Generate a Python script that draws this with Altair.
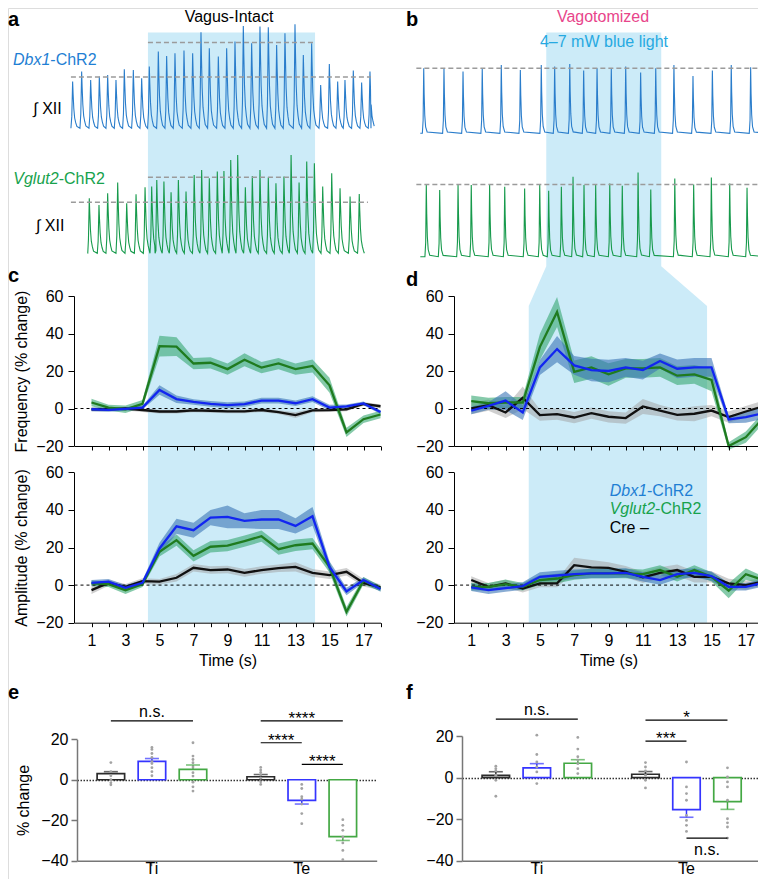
import altair as alt
import pandas as pd

FONT = "Liberation Sans"
W, H = 750, 871

# ---------------- layout (chart pixels) ----------------
XL = [66.5, 372.5]          # left column time scale (0..18 s)
XR = [446.1, 755.0]         # right column time scale (0..18 s)
YF = [438.0, 288.0]         # frequency panels (-20..60)
YA = [614.7, 464.3]         # amplitude panels (-20..60)
SHADE_RANGE = [24.5, 614.7]
XE = [69.0, 368.7]
YE = [852.7, 731.3]
XFB = [454.0, 753.3]
YFB = [852.7, 728.0]

# ---------------- data ----------------
TIME = list(range(1, 19))
SERIES = ["Cre", "Vglut2", "Dbx1"]

# panel c : vagus intact
C_FREQ = {
    "Vglut2": [3.2, 0.5, -0.4, 2.5, 33.3, 33.0, 24.0, 24.4, 21.0, 26.0, 21.8, 24.0, 21.0, 22.7, 12.4, -12.7, -5.7, -3.2],
    "Dbx1": [-0.4, -0.7, -0.2, 0.5, 9.9, 5.0, 3.5, 2.5, 1.8, 2.3, 4.2, 4.2, 2.8, 5.0, 0.5, 1.1, 2.7, -1.9],
    "Cre": [-0.5, -0.5, 0.0, -0.8, -1.6, -1.6, -1.0, -1.2, -1.5, -1.5, -0.8, -1.9, -3.5, -1.0, -0.9, -0.5, 2.5, 1.2],
}
C_FREQ_SEM = {
    "Vglut2": [2, 1.5, 2, 2, 5.5, 5, 3, 3, 3, 3.5, 3, 3, 3, 3.5, 4, 2.5, 2, 2],
    "Dbx1": [1, 1, 1, 1, 2.5, 2, 1.5, 1.5, 1.5, 1.5, 1.5, 1.5, 1.5, 1.5, 1.5, 1, 1, 1],
    "Cre": [1, 1, 1, 1, 1, 1, 1, 1, 1, 1, 1, 1, 1.5, 1, 1, 1, 1, 1],
}
C_AMP = {
    "Dbx1": [1.2, 1.8, -1.4, 1.2, 19.5, 31.3, 29.2, 35.9, 36.3, 34.2, 34.9, 34.9, 31.5, 36.6, 9.7, -3.4, 2.7, -2.1],
    "Vglut2": [0.9, 0.5, -2.7, 0.5, 17.7, 23.9, 15.6, 20.4, 21.0, 23.4, 26.0, 19.1, 21.2, 22.1, 9.7, -14.2, 2.3, -1.8],
    "Cre": [-2.7, 1.2, -0.9, 2.1, 1.8, 3.9, 9.2, 8.0, 8.3, 6.5, 8.0, 9.0, 9.7, 6.5, 5.3, 7.1, 1.2, -1.2],
}
C_AMP_SEM = {
    "Dbx1": [1.5, 1.5, 1.5, 1.5, 3, 4, 4, 4, 6, 4, 5, 5, 4, 5, 3, 2, 1.5, 1.5],
    "Vglut2": [1.5, 1.5, 2, 1.5, 2.5, 3, 3, 3, 3, 3, 3, 3, 3, 3, 3, 2.5, 2, 1.5],
    "Cre": [2, 1.5, 1.5, 1.5, 1.5, 2, 2, 2, 2, 2, 2, 2, 2.5, 2, 2, 2, 2, 1.5],
}
# panel d : vagotomized
D_FREQ = {
    "Vglut2": [3.9, 2.8, 3.2, 3.2, 32.9, 51.5, 19.6, 21.9, 18.2, 21.4, 21.4, 21.9, 17.5, 18.2, 15.2, -20.0, -15.3, -5.1],
    "Dbx1": [-1.1, 1.4, 4.2, -2.1, 21.9, 31.7, 23.0, 20.5, 20.0, 21.9, 20.5, 25.3, 21.2, 21.9, 21.9, -5.8, -4.6, -2.5],
    "Cre": [0.0, 1.8, -2.1, 5.7, -3.5, -3.0, -4.8, -2.5, -4.4, -5.1, 1.1, -1.1, -3.4, -2.8, -1.1, -4.6, -1.6, 1.1],
}
D_FREQ_SEM = {
    "Vglut2": [3, 3, 3, 3, 7, 8, 6, 6, 6, 5, 5, 5, 5, 5, 6, 2, 3, 3],
    "Dbx1": [2, 2, 5, 4, 4, 7, 5, 6, 6, 5, 5, 4, 5, 5, 5, 2, 3, 3],
    "Cre": [3, 3, 3, 6, 3, 3, 3, 3, 3, 3, 4, 3, 3, 4, 3, 3, 3, 3],
}
D_AMP = {
    "Dbx1": [-1.2, -2.7, -1.6, -0.5, 4.4, 5.1, 5.8, 6.2, 6.2, 6.5, 4.4, 2.7, 5.8, 6.5, 4.8, -0.9, -0.9, 1.2],
    "Vglut2": [-0.9, -0.9, 0.5, -0.9, 2.7, 3.5, 5.3, 6.2, 6.2, 6.2, 5.8, 8.0, 4.4, 8.0, 4.4, -3.0, 5.8, 2.7],
    "Cre": [2.7, -0.9, 0.9, -1.9, 0.9, 0.9, 10.6, 9.4, 9.2, 7.1, 4.1, 6.5, 8.0, 4.4, 4.4, 0.9, 0.0, 1.8],
}
D_AMP_SEM = {
    "Dbx1": [2, 2, 2, 2, 2.5, 2.5, 2.5, 2.5, 2.5, 2.5, 2.5, 2.5, 2.5, 2.5, 2.5, 2, 2, 2],
    "Vglut2": [2, 2, 2.5, 2, 2.5, 2.5, 2.5, 2.5, 2.5, 2.5, 2.5, 2.5, 2.5, 2.5, 2.5, 4, 3, 2],
    "Cre": [2, 2, 2, 2, 2, 2, 4, 4, 3, 3, 3, 3, 3, 3, 3, 2.5, 2.5, 2],
}

# light-on periods (s)
LIGHT_LEFT = [4.32, 14.15]
LIGHT_RIGHT_TRACE = [5.37, 12.07]
LIGHT_RIGHT_PANEL = [4.35, 14.74]

# raw XII traces : burst peak times (s) and heights (a.u.)
A_DBX1_T = [-0.11, 0.42, 0.95, 1.46, 1.95, 2.44, 2.93, 3.46, 3.95, 4.40, 4.93, 5.42, 5.91, 6.44, 6.95, 7.44, 7.93, 8.46,
            8.95, 9.44, 9.93, 10.42, 10.91, 11.40, 11.89, 12.38, 12.97, 13.46, 13.95, 14.48, 14.99, 15.48, 15.91, 16.40, 16.89, 17.38]
A_DBX1_H = [46.7, 56.7, 48.3, 51.7, 53.3, 48.3, 59.0, 58.3, 50.0, 61.7, 76.7, 72.3, 75.0, 77.7, 75.0, 96.0, 80.0, 71.7,
            80.0, 86.7, 102.3, 85.0, 101.7, 101.0, 83.3, 95.0, 104.0, 73.3, 85.0, 43.3, 64.3, 46.7, 48.3, 57.7, 45.7, 56.7]
A_VGLUT2_T = [0.87, 1.44, 1.95, 2.54, 3.07, 3.62, 4.15, 4.54, 4.84, 5.26, 5.68, 6.11, 6.56, 7.04, 7.48, 7.93, 8.40, 8.79,
              9.19, 9.60, 10.05, 10.46, 10.91, 11.40, 11.85, 12.32, 12.74, 13.21, 13.66, 14.11, 14.60, 15.13, 15.62, 16.21, 16.75]
A_VGLUT2_H = [55.0, 48.3, 60.0, 70.7, 50.0, 59.0, 66.0, 66.7, 73.3, 71.7, 61.0, 73.3, 61.7, 78.3, 83.3, 75.0, 81.7, 82.3,
              93.3, 98.3, 66.0, 77.3, 83.3, 75.7, 70.0, 76.7, 98.3, 70.7, 91.7, 90.0, 66.7, 80.0, 65.0, 56.7, 59.3]
B_DBX1_T = [-1.77, -0.59, 0.52, 1.64, 2.75, 3.86, 5.08, 5.86, 6.74, 7.55, 8.33, 9.16, 10.0, 10.87, 11.75, 12.81, 13.92,
            15.05, 16.15, 17.28]
B_DBX1_H = [65.0, 65.0, 61.7, 65.0, 68.3, 63.3, 68.3, 66.7, 69.3, 62.7, 65.0, 65.0, 66.7, 60.7, 65.0, 68.3, 57.3, 62.7, 68.3, 66.0]
B_VGLUT2_T = [-1.62, -0.84, 0.23, 1.0, 2.07, 2.95, 4.11, 4.99, 5.51, 6.25, 6.93, 7.57, 8.25, 9.07, 9.8, 10.72, 11.46,
              12.86, 13.96, 14.99, 16.06, 17.07]
B_VGLUT2_H = [71.7, 66.7, 71.7, 71.7, 71.7, 70.0, 68.3, 71.7, 66.0, 70.0, 80.0, 71.7, 71.7, 73.3, 71.0, 84.3, 67.3, 78.3,
              72.3, 79.3, 73.3, 69.0]

# bar charts e / f
GENO = ["Cre", "Dbx1", "Vglut2"]
PHASE = ["Ti", "Te"]
E_MEAN = {"Ti": [3.0, 9.1, 5.1], "Te": [1.5, -10.2, -28.1]}
E_SEM = {"Ti": [1.0, 1.4, 2.2], "Te": [1.1, 1.8, 1.9]}
F_MEAN = {"Ti": [1.1, 4.7, 6.9], "Te": [1.6, -15.4, -11.6]}
F_SEM = {"Ti": [1.7, 2.0, 1.7], "Te": [1.3, 3.7, 3.7]}
E_DOTS = {
    ("Ti", "Cre"): [8.5, 4.0, 2.0, 0.0, -1.5, -2.5],
    ("Ti", "Dbx1"): [16, 15, 13, 11, 9, 8, 6, 4, 2],
    ("Ti", "Vglut2"): [18.3, 11.7, 10, 8.4, 6.3, 3.5, 1.8, -1.2, -3.5, -5.6],
    ("Te", "Cre"): [6.1, 4.8, 3.6, 2.3, 0.7, -1.0, -2.3],
    ("Te", "Dbx1"): [-2.3, -4.3, -8.4, -9.6, -12, -16.7, -21.7],
    ("Te", "Vglut2"): [-19.7, -22.5, -25, -28.3, -31.2, -34.9, -39.5],
}
F_DOTS = {
    ("Ti", "Cre"): [5.5, 4.3, 3.2, 1.1, -1.3, -9],
    ("Ti", "Dbx1"): [20.4, 11.1, 7.5, 5.1, 2.7, -2.9],
    ("Ti", "Vglut2"): [19.3, 13.7, 10, 8.4, 6.7, 4.3, 1.9],
    ("Te", "Cre"): [7.2, 5.1, 3.2, 1.1, -1.3, -5],
    ("Te", "Dbx1"): [7.5, -4.5, -7.7, -10.9, -18.2, -20.6, -23, -25.9],
    ("Te", "Vglut2"): [4.7, 0.3, -2.1, -4.5, -10.9, -19.8, -21.8, -23.8, -29.1],
}
# brackets: phase, from, to, level, label, placement
E_BRACKETS = [("Ti", "Cre", "Vglut2", 29.1, "n.s.", "above"),
              ("Te", "Cre", "Vglut2", 29.1, "****", "star"),
              ("Te", "Cre", "Dbx1", 18.3, "****", "star"),
              ("Te", "Dbx1", "Vglut2", 7.6, "****", "star")]
F_BRACKETS = [("Ti", "Cre", "Vglut2", 28.1, "n.s.", "above"),
              ("Te", "Cre", "Vglut2", 27.6, "*", "star"),
              ("Te", "Cre", "Dbx1", 17.5, "***", "star"),
              ("Te", "Dbx1", "Vglut2", -29.1, "n.s.", "below")]

# ---------------- styles ----------------
SHADE = "#ccebf8"
LINE_COL = {"Cre": "#111111", "Vglut2": "#1f7b1f", "Dbx1": "#1226f0"}
BAND_COL = {"Cre": "#a0a0a0", "Vglut2": "#35a672", "Dbx1": "#3a74b6"}
BAND_OP = {"Cre": 0.5, "Vglut2": 0.6, "Dbx1": 0.6}
BAR_COL = ["#2b2b2b", "#3535ff", "#44a844"]
TRACE_BLUE = "#2a7dcb"
TRACE_GREEN = "#179a4c"
LABEL_BLUE = "#1f7fd4"
LABEL_GREEN = "#17a24d"

TEMPLATE_A = [(-0.10, 0.0), (-0.05, 0.25), (-0.02, 0.7), (0.0, 1.0), (0.03, 0.72), (0.07, 0.42),
              (0.12, 0.22), (0.18, 0.12), (0.25, 0.04)]
TEMPLATE_B = [(-0.08, 0.0), (-0.035, 0.2), (-0.012, 0.75), (0.0, 1.0), (0.025, 0.6), (0.06, 0.28),
              (0.11, 0.1), (0.2, 0.02)]


def trace_df(times, heights, start, end, template):
    rows = [(start, 0.0), (end, 0.0)]
    for pt, ph in zip(times, heights):
        for dt, f in template:
            rows.append((pt + dt, f * ph))
    return pd.DataFrame(rows, columns=["t", "v"]).sort_values("t")


def trace_layer(times, heights, start, end, template, xr, base, color, dashes):
    xs = alt.Scale(domain=[0, 18], range=xr, nice=False, zero=False)
    ys = alt.Scale(domain=[0, 100], range=[base, base - 100], nice=False, zero=False)
    df = trace_df(times, heights, start, end, template)
    line = alt.Chart(df).mark_line(color=color, strokeWidth=1.1).encode(
        x=alt.X("t:Q", scale=xs, axis=None), y=alt.Y("v:Q", scale=ys, axis=None))
    ddf = pd.DataFrame(dashes, columns=["x0", "x1", "lvl"])
    dash = alt.Chart(ddf).mark_rule(color="#9b9b9b", strokeDash=[5, 3], strokeWidth=1.5).encode(
        x=alt.X("x0:Q", scale=xs, axis=None), x2="x1:Q", y=alt.Y("lvl:Q", scale=ys, axis=None))
    return alt.layer(line, dash)


def y_axis_ts(offset, title):
    kw = dict(orient="left", offset=offset, values=[-20, 0, 20, 40, 60], tickSize=6, labelPadding=5,
              labelFontSize=16, labelFont=FONT, labelColor="black", domainColor="black", tickColor="black",
              domainWidth=1, tickWidth=1, grid=False, labelOverlap=False, zindex=1)
    if title:
        kw.update(title=title, titleFont=FONT, titleFontSize=16, titleFontWeight="normal",
                  titleColor="black", titlePadding=6)
    else:
        kw.update(title=None)
    return alt.Axis(**kw)


def x_axis_ts(offset, labels):
    kw = dict(orient="bottom", offset=offset, values=TIME, tickSize=4, domainColor="black", tickColor="black",
              domainWidth=1, tickWidth=1, grid=False, zindex=1)
    if labels:
        kw.update(labelExpr="datum.value % 2 == 1 ? datum.label : ''", labelFontSize=16, labelFont=FONT,
                  labelColor="black", labelPadding=6, labelAngle=0, labelOverlap=False, labelFlush=False,
                  title="Time (s)", titleFont=FONT, titleFontSize=16, titleFontWeight="normal",
                  titleColor="black", titlePadding=4)
    else:
        kw.update(labels=False, title=None)
    return alt.Axis(**kw)


def ts_panel(means, sems, xr, yr, xaxis, yaxis):
    xs = alt.Scale(domain=[0, 18], range=xr, nice=False, zero=False)
    ys = alt.Scale(domain=[-20, 60], range=yr, nice=False, zero=False)
    layers = []
    for s in SERIES:
        df = pd.DataFrame({"t": TIME,
                           "lo": [m - e for m, e in zip(means[s], sems[s])],
                           "hi": [m + e for m, e in zip(means[s], sems[s])]})
        layers.append(alt.Chart(df).mark_area(color=BAND_COL[s], opacity=BAND_OP[s]).encode(
            x=alt.X("t:Q", scale=xs, axis=xaxis), y=alt.Y("lo:Q", scale=ys, axis=yaxis), y2="hi:Q"))
    zdf = pd.DataFrame({"x0": [0], "x1": [18], "y": [0]})
    layers.append(alt.Chart(zdf).mark_rule(color="black", strokeDash=[3, 3], strokeWidth=1).encode(
        x=alt.X("x0:Q", scale=xs, axis=xaxis), x2="x1:Q", y=alt.Y("y:Q", scale=ys, axis=yaxis)))
    for s in SERIES:
        df = pd.DataFrame({"t": TIME, "m": means[s]})
        layers.append(alt.Chart(df).mark_line(color=LINE_COL[s], strokeWidth=2.3).encode(
            x=alt.X("t:Q", scale=xs, axis=xaxis), y=alt.Y("m:Q", scale=ys, axis=yaxis)))
    return alt.layer(*layers)


def bar_panel(means, sems, dots, brackets, xr, yr, yoffset, with_title):
    xs = alt.Scale(type="band", domain=PHASE, range=xr, paddingInner=0, paddingOuter=0)
    xo = alt.Scale(type="band", domain=GENO, paddingInner=0.33, paddingOuter=0.49)
    ys = alt.Scale(domain=[-40, 20], range=yr, nice=False, zero=False)
    st = alt.Scale(domain=GENO, range=BAR_COL)
    ykw = dict(orient="left", offset=yoffset, values=[-40, -20, 0, 20], tickSize=6, labelPadding=3,
               labelFontSize=16, labelFont=FONT, labelColor="black", domainColor="#777777", domainWidth=1.5,
               tickColor="#777777", tickWidth=1.5, labelOverlap=False, grid=True,
               gridOpacity={"condition": {"test": "datum.value === 0", "value": 1}, "value": 0},
               gridColor="#333333", gridDash=[1.5, 1.5], gridWidth=1.3)
    if with_title:
        ykw.update(title="% change", titleFont=FONT, titleFontSize=16, titleFontWeight="normal",
                   titleColor="black", titlePadding=9)
    else:
        ykw.update(title=None)
    yaxis = alt.Axis(**ykw)
    xaxis = alt.Axis(orient="bottom", offset=yr[0] - H, tickSize=5, labelPadding=8, labelBaseline="alphabetic",
                     labelFontSize=16, labelFont=FONT, labelColor="black", labelAngle=0,
                     domainColor="#777777", domainWidth=1.5,
                     tickColor="#777777", tickWidth=1.5, title=None, grid=False)
    X = alt.X("ph:N", scale=xs, axis=xaxis, sort=PHASE)
    XO = alt.XOffset("g:N", scale=xo, sort=GENO)

    rows = []
    for ph in PHASE:
        for i, g in enumerate(GENO):
            m = means[ph][i]
            sgn = 1 if m >= 0 else -1
            rows.append({"ph": ph, "g": g, "m": m, "z": 0.0, "err": m + sgn * sems[ph][i]})
    bdf = pd.DataFrame(rows)
    drows = [{"ph": ph, "g": g, "v": v} for (ph, g), vals in dots.items() for v in vals]
    ddf = pd.DataFrame(drows)

    bars = alt.Chart(bdf).mark_bar(fill="white", strokeWidth=1.7).encode(
        x=X, xOffset=XO, y=alt.Y("m:Q", scale=ys, axis=yaxis), y2="z:Q",
        stroke=alt.Stroke("g:N", scale=st, legend=None))
    err = alt.Chart(bdf).mark_rule(strokeWidth=1.5).encode(
        x=X, xOffset=XO, y=alt.Y("m:Q", scale=ys, axis=yaxis), y2="err:Q",
        stroke=alt.Stroke("g:N", scale=st, legend=None))
    caps = alt.Chart(bdf).mark_tick(orient="horizontal", size=14, thickness=1.6).encode(
        x=X, xOffset=XO, y=alt.Y("err:Q", scale=ys, axis=yaxis),
        color=alt.Color("g:N", scale=st, legend=None))
    pts = alt.Chart(ddf).mark_circle(size=8, color="#a3a3a3", opacity=1).encode(
        x=X, xOffset=XO, y=alt.Y("v:Q", scale=ys, axis=yaxis))
    layers = [bars, err, caps, pts]

    for k, (ph, g0, g1, lvl, lab, kind) in enumerate(brackets):
        ldf = pd.DataFrame({"ph": [ph, ph], "g": [g0, g1], "v": [lvl, lvl], "id": [k, k]})
        layers.append(alt.Chart(ldf).mark_line(color="black", strokeWidth=1.2).encode(
            x=X, xOffset=XO, y=alt.Y("v:Q", scale=ys, axis=yaxis), detail="id:N"))
        gi = (GENO.index(g0) + GENO.index(g1)) / 2.0
        if gi == int(gi):
            anchor, dx = GENO[int(gi)], 0
        elif gi < 1:
            anchor, dx = "Cre", 20.5
        else:
            anchor, dx = "Vglut2", -20.5
        tdf = pd.DataFrame({"ph": [ph], "g": [anchor], "v": [lvl], "s": [lab]})
        if kind == "star":
            mk = alt.Chart(tdf).mark_text(font=FONT, fontSize=17, baseline="alphabetic", dx=dx, dy=3, color="black")
        elif kind == "above":
            mk = alt.Chart(tdf).mark_text(font=FONT, fontSize=16, baseline="alphabetic", dx=dx, dy=-4, color="black")
        else:
            mk = alt.Chart(tdf).mark_text(font=FONT, fontSize=16, baseline="alphabetic", dx=dx, dy=17, color="black")
        layers.append(mk.encode(x=X, xOffset=XO, y=alt.Y("v:Q", scale=ys, axis=yaxis), text="s:N"))
    return alt.layer(*layers)


def txt(s, x, y, size=16, color="black", bold=False, italic=False, align="left"):
    return alt.Chart(pd.DataFrame({"s": [s]})).mark_text(
        font=FONT, fontSize=size, color=color, fontWeight="bold" if bold else "normal",
        fontStyle="italic" if italic else "normal", align=align, baseline="alphabetic").encode(
        x=alt.value(x), y=alt.value(y), text="s:N")


# ---------------- shading ----------------
lev = alt.Scale(domain=[0, 1], range=SHADE_RANGE, nice=False, zero=False)
shade_left = alt.Chart(pd.DataFrame({"x0": [LIGHT_LEFT[0]], "x1": [LIGHT_LEFT[1]], "l0": [0], "l1": [1]})).mark_rect(
    color=SHADE).encode(
    x=alt.X("x0:Q", scale=alt.Scale(domain=[0, 18], range=XL, nice=False, zero=False), axis=None), x2="x1:Q",
    y=alt.Y("l0:Q", scale=lev, axis=None), y2="l1:Q")
rshade = pd.DataFrame({
    "lvl": [0.0, 0.396, 0.4635, 1.0],
    "x0": [LIGHT_RIGHT_TRACE[0], LIGHT_RIGHT_TRACE[0], LIGHT_RIGHT_PANEL[0], LIGHT_RIGHT_PANEL[0]],
    "x1": [LIGHT_RIGHT_TRACE[1], LIGHT_RIGHT_TRACE[1], LIGHT_RIGHT_PANEL[1], LIGHT_RIGHT_PANEL[1]],
})
shade_right = alt.Chart(rshade).mark_area(color=SHADE, orient="horizontal", opacity=1).encode(
    y=alt.Y("lvl:Q", scale=lev, axis=None),
    x=alt.X("x0:Q", scale=alt.Scale(domain=[0, 18], range=XR, nice=False, zero=False), axis=None), x2="x1:Q")

# ---------------- traces ----------------
tr_a1 = trace_layer(A_DBX1_T, A_DBX1_H, -0.21, 17.44, TEMPLATE_A, XL, 120.3, TRACE_BLUE,
                    [(-0.21, 17.44, 51.3), (LIGHT_LEFT[0], LIGHT_LEFT[1], 85.7)])
tr_a2 = trace_layer(A_VGLUT2_T, A_VGLUT2_H, 0.78, 17.05, TEMPLATE_A, XL, 245.3, TRACE_GREEN,
                    [(-0.21, 17.26, 51.0), (LIGHT_LEFT[0], LIGHT_LEFT[1], 76.0)])
tr_b1 = trace_layer(B_DBX1_T, B_DBX1_H, -1.97, 18.2, TEMPLATE_B, XR, 125.3, TRACE_BLUE,
                    [(-2.2, 18.2, 65.0)])
tr_b2 = trace_layer(B_VGLUT2_T, B_VGLUT2_H, -1.97, 18.2, TEMPLATE_B, XR, 248.7, TRACE_GREEN,
                    [(-2.2, 18.2, 72.3)])

# ---------------- time-course panels ----------------
c_freq = ts_panel(C_FREQ, C_FREQ_SEM, XL, YF, x_axis_ts(YF[0] - H, False), y_axis_ts(-66, "Frequency (% change)"))
c_amp = ts_panel(C_AMP, C_AMP_SEM, XL, YA, x_axis_ts(YA[0] - H, True), y_axis_ts(-66, "Amplitude (% change)"))
d_freq = ts_panel(D_FREQ, D_FREQ_SEM, XR, YF, x_axis_ts(YF[0] - H, False), y_axis_ts(-446, None))
d_amp = ts_panel(D_AMP, D_AMP_SEM, XR, YA, x_axis_ts(YA[0] - H, True), y_axis_ts(-446, None))

# ---------------- bar panels ----------------
e_bar = bar_panel(E_MEAN, E_SEM, E_DOTS, E_BRACKETS, XE, YE, -69, True)
f_bar = bar_panel(F_MEAN, F_SEM, F_DOTS, F_BRACKETS, XFB, YFB, -454, False)

# ---------------- texts ----------------
texts = [
    txt("a", 0, 18, 20, bold=True), txt("b", 398, 18, 20, bold=True),
    txt("c", 0, 274, 20, bold=True), txt("d", 398, 278, 20, bold=True),
    txt("e", 0, 691, 20, bold=True), txt("f", 398, 691, 20, bold=True),
    txt("Vagus-Intact", 221, 14, 16, align="center"),
    txt("Vagotomized", 595, 14, 16, color="#e8458b", align="center"),
    txt("4\u20137 mW blue light", 596, 38.7, 16, color="#27a9e1", align="center"),
    txt("Dbx1", 5, 57, 16, color=LABEL_BLUE, italic=True), txt("-ChR2", 42.3, 57, 16, color=LABEL_BLUE),
    txt("\u222b XII", 25.3, 106.3, 16),
    txt("Vglut2", 5.3, 176.3, 16, color=LABEL_GREEN, italic=True), txt("-ChR2", 50.7, 176.3, 16, color=LABEL_GREEN),
    txt("\u222b XII", 28, 222.7, 16),
    txt("Dbx1", 601.7, 487.7, 16, color=LABEL_BLUE, italic=True), txt("-ChR2", 639, 487.7, 16, color=LABEL_BLUE),
    txt("Vglut2", 601.7, 506.3, 16, color=LABEL_GREEN, italic=True), txt("-ChR2", 647.1, 506.3, 16, color=LABEL_GREEN),
    txt("Cre \u2013", 601.7, 525.3, 16),
]

chart = alt.layer(
    shade_left, shade_right, tr_a1, tr_a2, tr_b1, tr_b2,
    c_freq, c_amp, d_freq, d_amp, e_bar, f_bar, *texts
).resolve_scale(
    x="independent", y="independent", xOffset="independent"
).properties(
    width=W, height=H, padding=0, autosize=alt.AutoSizeParams(type="none")
).configure_view(stroke=None).configure(font=FONT)

chart.save("out.html", embed_options={"renderer": "svg", "actions": False})
